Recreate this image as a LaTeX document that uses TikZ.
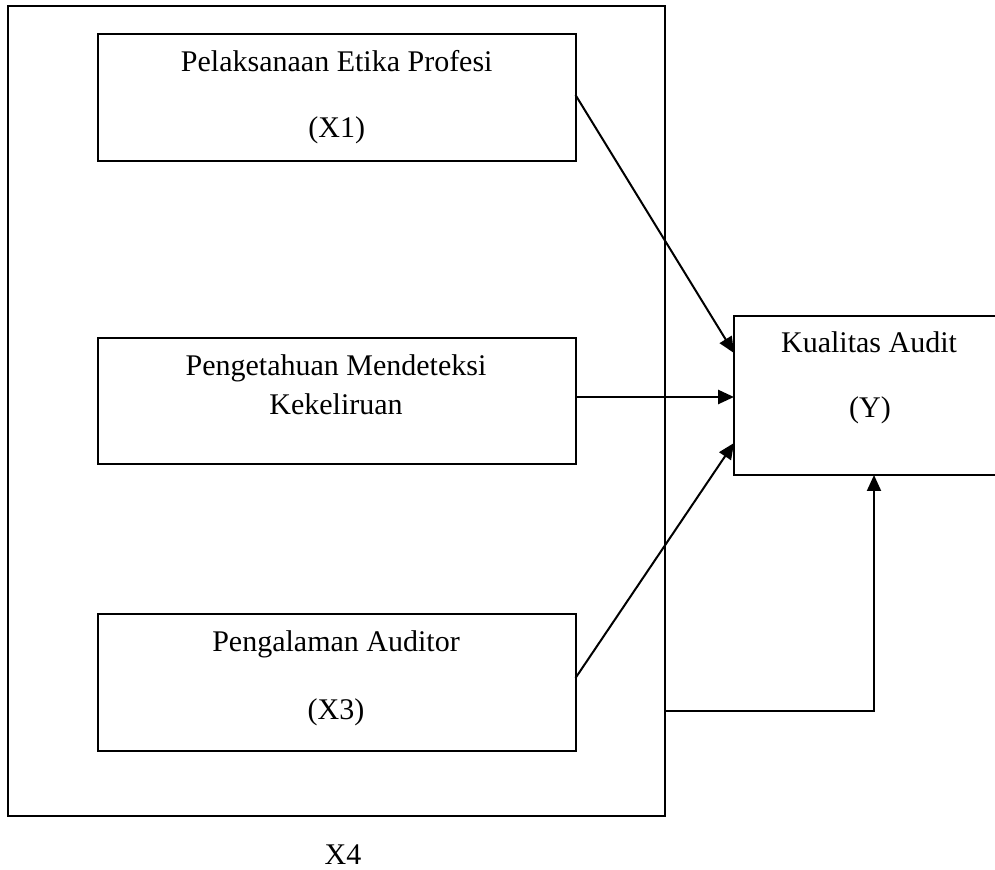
\documentclass[tikz,border=0pt]{standalone}
\usepackage{fontspec}
\setmainfont{Liberation Serif}
\usetikzlibrary{arrows.meta}
\begin{document}
\begin{tikzpicture}[x=0.5pt,y=-0.5pt,
  box/.style={draw, line width=1pt, inner sep=0pt, outer sep=0pt},
  lbl/.style={anchor=base, inner sep=0pt, font=\fontsize{15}{18}\selectfont},
  conn/.style={line width=1pt, -{Triangle[length=8pt,width=7pt]}}]
\useasboundingbox (0,0) rectangle (995,870);
\clip (0,0) rectangle (995,870);
% boxes
\node[box, minimum width=328.75pt, minimum height=405pt] (outer) at (336.25,411) {};
\node[box, minimum width=238.75pt, minimum height=63.5pt] (x1) at (336.75,97.5) {};
\node[box, minimum width=238.75pt, minimum height=63pt] (x2) at (336.75,401) {};
\node[box, minimum width=238.75pt, minimum height=68.5pt] (x3) at (336.75,682.5) {};
\node[box, minimum width=138pt, minimum height=79.5pt] (y) at (872,395.5) {};
% texts
\node[lbl] (t1a) at (336.75,72) {Pelaksanaan Etika Profesi};
\node[lbl] (t1b) at (336.75,138) {(X1)};
\node[lbl] (t2a) at (336,376) {Pengetahuan Mendeteksi};
\node[lbl] (t2b) at (336,415) {Kekeliruan};
\node[lbl] (t3a) at (336,652) {Pengalaman Auditor};
\node[lbl] (t3b) at (336,719) {(X3)};
\node[lbl] (tya) at (869,353) {Kualitas Audit};
\node[lbl] (tyb) at (870,418) {(Y)};
\node[lbl] (t4) at (343,864) {X4};
% connectors
\draw[conn] ([yshift=1.25pt]x1.east) -- ([yshift=21.25pt]y.west);
\draw[conn, line width=1.3pt] ([yshift=2pt]x2.east) -- ([yshift=2pt]x2.east -| y.west);
\draw[conn] ([yshift=2.25pt]x3.east) -- ([yshift=-23.75pt]y.west);
\draw[conn] ([yshift=-150pt]outer.east) -| ([xshift=1pt]y.south);
\end{tikzpicture}
\end{document}
